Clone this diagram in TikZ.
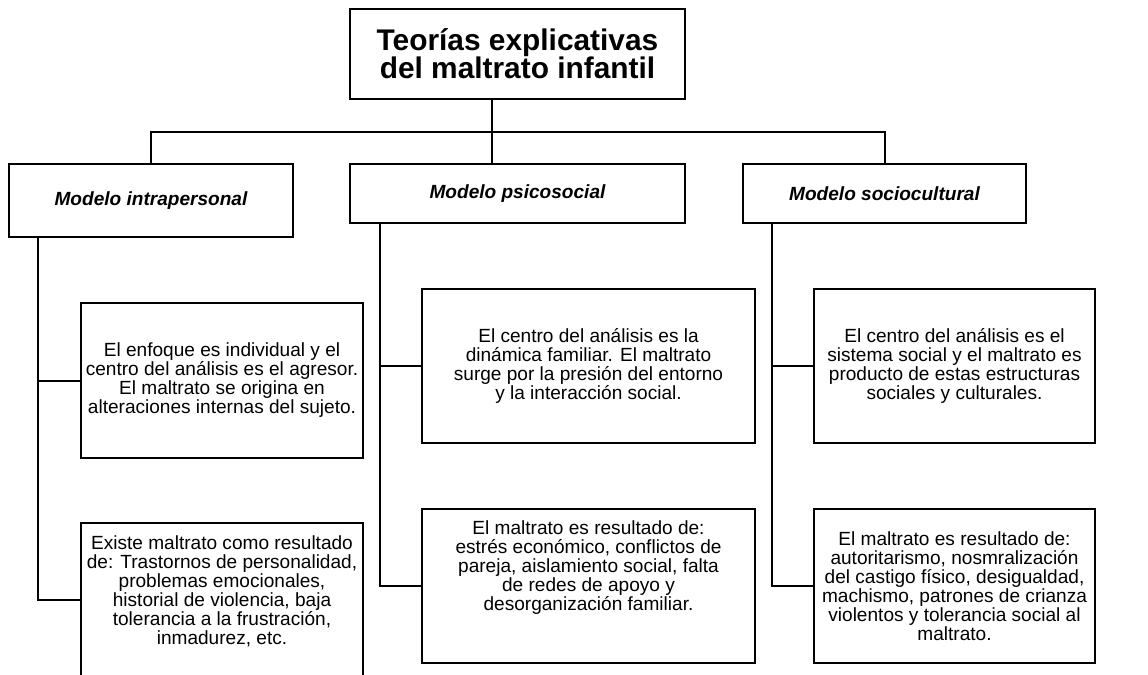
\documentclass[tikz,border=0pt]{standalone}
\usepackage{fontspec}
\setmainfont{Liberation Sans}
\begin{document}
\begin{tikzpicture}[x=0.75pt,y=-0.75pt,
		box/.style={draw,line width=1.9pt,inner sep=0pt,align=center,font=\fontsize{14.3}{14.25}\selectfont},
		model/.style={box,font=\fontsize{14.3}{16}\selectfont\bfseries\itshape},
		wire/.style={line width=1.5pt}]
			\useasboundingbox (0,0) rectangle (1148,674);
			
			%title
			\node[box,minimum width=251.25pt,minimum height=67.5pt,font=\fontsize{22.4}{21}\selectfont\bfseries] (title) at (517.5,54){Teorías explicativas\\del maltrato infantil};
			
			%models
			\node[model,minimum width=213pt,minimum height=54.75pt] (intra) at (151,200.5){Modelo intrapersonal};
			\node[model,minimum width=251.25pt,minimum height=44.25pt] (psico) at (517.5,193.5){Modelo psicosocial};
			\node[model,minimum width=212.25pt,minimum height=44.25pt] (socio) at (884.5,193.5){Modelo sociocultural};
			
			\coordinate (bus) at (492,132);
			\draw[wire] (title.south -| bus) -- (psico.north -| bus);
			\draw[wire] (intra.north) |- (bus) -| (socio.north);
			
			%first row
			\node[box,minimum width=211.5pt,minimum height=116.25pt] (iA) at (222,380.5){El enfoque es individual y el\\centro del análisis es el agresor.\\El maltrato se origina en\\alteraciones internas del sujeto.};
			\node[box,minimum width=249.75pt,minimum height=115.5pt] (pA) at (588.5,366){El centro del análisis es la\\dinámica familiar. El maltrato\\surge por la presión del entorno\\y la interacción social.};
			\node[box,minimum width=210.75pt,minimum height=115.5pt] (sA) at (954.5,366){El centro del análisis es el\\sistema social y el maltrato es\\producto de estas estructuras\\sociales y culturales.};
			
			%second row
			\node[box,minimum width=211.5pt,minimum height=115.5pt,text depth=15pt] (iB) at (222,600){Existe maltrato como resultado\\de: Trastornos de personalidad,\\problemas emocionales,\\historial de violencia, baja\\tolerancia a la frustración,\\inmadurez, etc.};
			\node[box,minimum width=249.75pt,minimum height=115.5pt,text depth=30pt] (pB) at (588.5,586){El maltrato es resultado de:\\estrés económico, conflictos de\\pareja, aislamiento social, falta\\de redes de apoyo y\\desorganización familiar.};
			\node[box,minimum width=210.75pt,minimum height=115.5pt] (sB) at (954.5,586){El maltrato es resultado de:\\autoritarismo, nosmralización\\del castigo físico, desigualdad,\\machismo, patrones de crianza\\violentos y tolerancia social al\\maltrato.};
			
			%spines
			\coordinate (ispine) at (38,237);
			\coordinate (pspine) at (380,223);
			\coordinate (sspine) at (772,223);
			\foreach \s/\a/\b in {ispine/iA/iB, pspine/pA/pB, sspine/sA/sB}{
				\draw[wire] (\s) |- (\b.west);
				\draw[wire] (\s |- \a.west) -- (\a.west);
			}
		\end{tikzpicture}
\end{document}
